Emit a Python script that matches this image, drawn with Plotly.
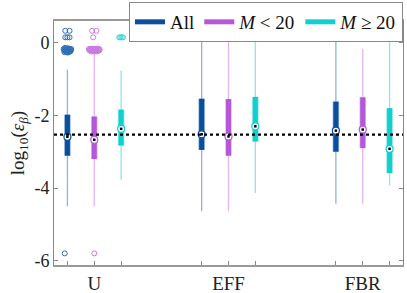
import plotly.graph_objects as go

# ---------------- data ----------------
categories = ["U", "EFF", "FBR"]
series_names = ["All", "<i>M</i> < 20", "<i>M</i> ≥ 20"]

# per series: values per category (U, EFF, FBR)
lower_whisker = [[-4.50, -4.64, -4.43],
                 [-4.50, -4.64, -4.43],
                 [-3.77, -4.14, -3.93]]
q1 = [[-3.11, -2.95, -3.00],
      [-3.20, -3.11, -2.90],
      [-2.83, -2.72, -3.59]]
median = [[-2.59, -2.52, -2.42],
          [-2.67, -2.58, -2.39],
          [-2.37, -2.30, -2.92]]
q3 = [[-1.98, -1.54, -1.62],
      [-2.03, -1.55, -1.50],
      [-1.84, -1.49, -1.80]]
upper_whisker = [[-0.74, 0.31, 0.15],
                 [-0.19, 0.31, -0.17],
                 [-0.76, 0.15, 0.15]]

# outliers (only category U has them): jitter offset and value
outlier_offset = [
    [-0.08, 0.08, -0.08, 0.00, 0.08,
     -0.14, -0.10, -0.06, -0.02, 0.02, 0.06, 0.10, 0.14,
     -0.12, -0.07, -0.03, 0.01, 0.05, 0.09, 0.13,
     -0.11, -0.05, 0.00, 0.04, 0.11, -0.09, 0.03,
     -0.10],
    [-0.08, 0.08, -0.04,
     -0.20, -0.16, -0.12, -0.08, -0.04, 0.00, 0.04, 0.08, 0.12, 0.16, 0.20,
     -0.18, -0.13, -0.06, 0.02, 0.07, 0.14, 0.19,
     -0.10, 0.00, 0.10,
     0.00],
    [-0.07, 0.07, -0.03, 0.03],
]
outlier_value = [
    [0.33, 0.33, 0.15, 0.15, 0.15,
     -0.17, -0.19, -0.16, -0.18, -0.17, -0.19, -0.18, -0.17,
     -0.21, -0.23, -0.22, -0.24, -0.21, -0.23, -0.20,
     -0.26, -0.25, -0.27, -0.26, -0.24, -0.14, -0.15,
     -5.80],
    [0.33, 0.33, 0.15,
     -0.17, -0.18, -0.16, -0.17, -0.18, -0.16, -0.17, -0.18, -0.16, -0.17, -0.18,
     -0.21, -0.22, -0.21, -0.22, -0.21, -0.22, -0.21,
     -0.24, -0.24, -0.24,
     -5.80],
    [0.15, 0.15, 0.15, 0.15],
]

reference_level = -2.53
y_ticks = [0, -2, -4, -6]
y_tick_labels = ["0", "-2", "-4", "-6"]

# ---------------- styling ----------------
dark = ["#0b4f9c", "#b457d8", "#12cfcf"]
light = ["#8fb3dc", "#e4b4f0", "#8ee6e6"]
outlier_color = ["#2f6db5", "#c77be0", "#3dd6d6"]
group_step = 5
offsets = [-1, 0, 1]

fig = go.Figure()

def pos(ci, si):
    return 2 + ci * group_step + offsets[si]

for si in range(3):
    wx, wy = [], []
    bx, by = [], []
    for ci in range(3):
        p = pos(ci, si)
        wx += [p, p, None, p, p, None]
        wy += [lower_whisker[si][ci], q1[si][ci], None, q3[si][ci], upper_whisker[si][ci], None]
        bx += [p, p, None]
        by += [q1[si][ci], q3[si][ci], None]
    fig.add_trace(go.Scatter(x=wx, y=wy, mode="lines", line=dict(color=light[si], width=1.3),
                             showlegend=False, hoverinfo="skip"))
    fig.add_trace(go.Scatter(x=bx, y=by, mode="lines", line=dict(color=light[si], width=6.5),
                             showlegend=False, hoverinfo="skip"))
    fig.add_trace(go.Scatter(x=bx, y=by, mode="lines", line=dict(color=dark[si], width=5),
                             showlegend=False, hoverinfo="skip"))
    ox = [pos(0, si) + o for o in outlier_offset[si]]
    fig.add_trace(go.Scatter(x=ox, y=outlier_value[si], mode="markers",
                             marker=dict(symbol="circle-open", size=5, color=outlier_color[si],
                                         line=dict(width=1)),
                             showlegend=False, hoverinfo="skip"))

fig.add_hline(y=reference_level, line=dict(color="black", width=2.2, dash="dot"))

for si in range(3):
    mx = [pos(ci, si) for ci in range(3)]
    fig.add_trace(go.Scatter(x=mx, y=median[si], mode="markers",
                             marker=dict(symbol="circle", size=7, color="white",
                                         line=dict(color=dark[si], width=1.2)),
                             showlegend=False, hoverinfo="skip"))
    fig.add_trace(go.Scatter(x=mx, y=median[si], mode="markers",
                             marker=dict(symbol="square", size=2.5, color="black"),
                             showlegend=False, hoverinfo="skip"))

for si in range(3):
    fig.add_trace(go.Scatter(x=[None], y=[None], mode="lines", name=series_names[si],
                             line=dict(color=dark[si], width=5)))

tickvals = []
ticktext = []
for ci in range(3):
    for si in range(3):
        tickvals.append(pos(ci, si))
        ticktext.append(categories[ci] if si == 1 else "")

font_family = "Liberation Serif"
fig.update_layout(
    width=407, height=293,
    margin=dict(l=54, r=4, t=21, b=28, autoexpand=False),
    paper_bgcolor="white", plot_bgcolor="white",
    font=dict(family=font_family, color="#222222", size=18),
    showlegend=True,
    legend=dict(orientation="h", x=1.0, xanchor="right", y=1.078, yanchor="top",
                bgcolor="white", bordercolor="#888888", borderwidth=1,
                font=dict(size=19, family=font_family, color="#111111"),
                itemwidth=30, tracegroupgap=0),
    xaxis=dict(range=[0.5, 13.5], tickvals=tickvals, ticktext=ticktext,
               ticks="inside", ticklen=4, tickcolor="#888888",
               showline=True, linecolor="#999999", linewidth=1.5, mirror=True,
               showgrid=False, zeroline=False,
               tickfont=dict(size=19, family=font_family, color="#222222")),
    yaxis=dict(range=[-6.12, 0.6], tickvals=y_ticks, ticktext=y_tick_labels,
               ticks="inside", ticklen=4, tickcolor="#888888",
               showline=True, linecolor="#888888", linewidth=1, mirror="ticks",
               showgrid=False, zeroline=False,
               tickfont=dict(size=18, family=font_family, color="#222222"),
               title=dict(text="log<sub>10</sub>(<i>ε</i><sub><i>β</i></sub>)",
                          font=dict(size=19, family=font_family, color="#222222"),
                          standoff=4)),
)

fig.write_html("out.html", config={"displayModeBar": False},
               post_script="document.body.style.margin='0px';")
